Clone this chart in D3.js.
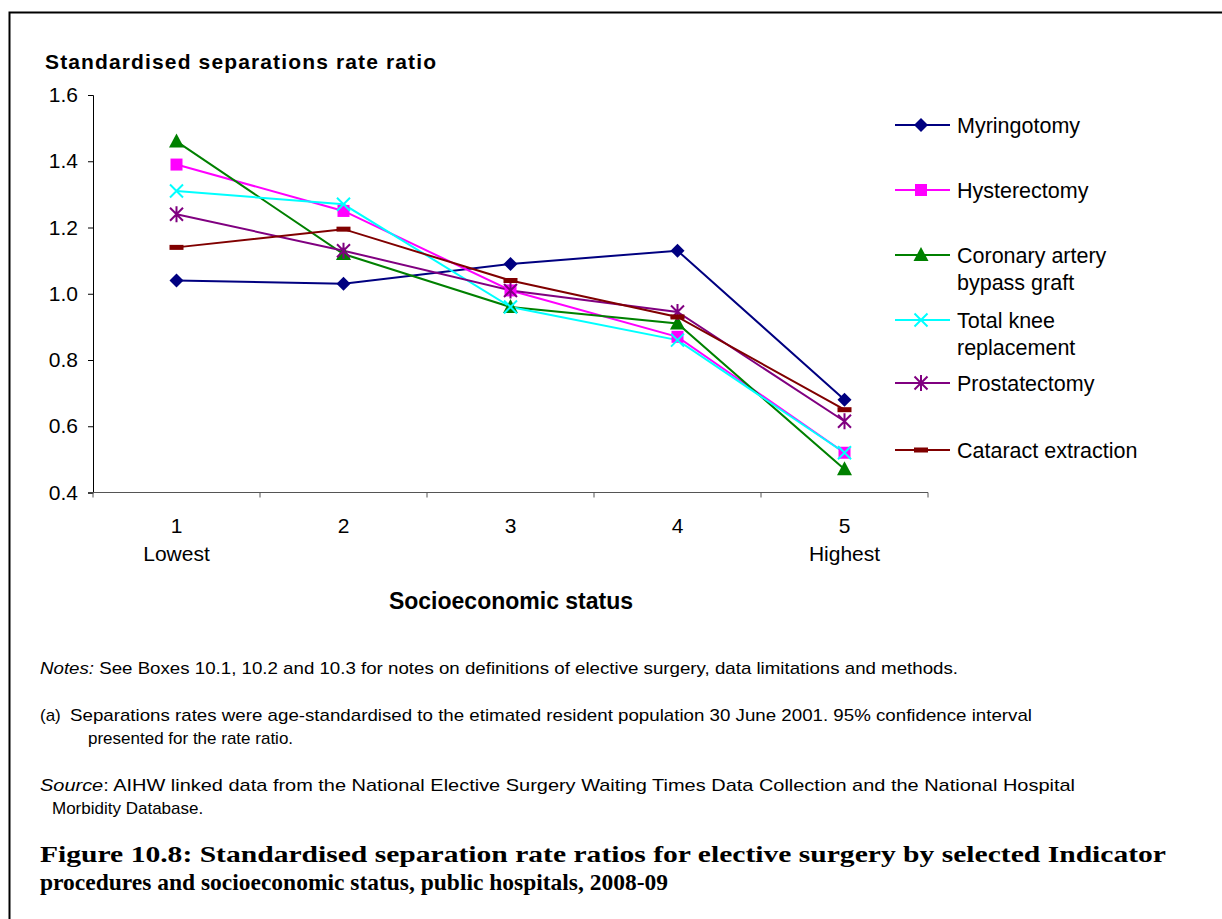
<!DOCTYPE html>
<html>
<head>
<meta charset="utf-8">
<script src="https://cdn.jsdelivr.net/npm/d3@7"></script>
<style>
  html, body { margin: 0; padding: 0; background: #fff; }
  svg { display: block; }
</style>
</head>
<body>
<svg id="chart" width="1222" height="919"></svg>
<script>
// Socioeconomic status quintiles
const categories = ["1", "2", "3", "4", "5"];
const categorySubLabels = ["Lowest", "", "", "", "Highest"];

// Standardised separations rate ratio by procedure
const myringotomy   = [1.04, 1.03, 1.09, 1.13, 0.68];
const hysterectomy  = [1.39, 1.25, 1.01, 0.87, 0.52];
const coronary      = [1.46, 1.12, 0.96, 0.91, 0.47];
const totalKnee     = [1.31, 1.27, 0.96, 0.86, 0.52];
const prostatectomy = [1.24, 1.13, 1.01, 0.945, 0.615];
const cataract      = [1.14, 1.195, 1.04, 0.93, 0.65];

const seriesNames = ["Myringotomy", "Hysterectomy", "Coronary artery bypass graft",
                     "Total knee replacement", "Prostatectomy", "Cataract extraction"];
const yTicks = [0.4, 0.6, 0.8, 1.0, 1.2, 1.4, 1.6];

const series = [
  { name: seriesNames[0], lines: ["Myringotomy"], values: myringotomy, color: "#000080", marker: "diamond" },
  { name: seriesNames[1], lines: ["Hysterectomy"], values: hysterectomy, color: "#FF00FF", marker: "square" },
  { name: seriesNames[2], lines: ["Coronary artery", "bypass graft"], values: coronary, color: "#008000", marker: "triangle" },
  { name: seriesNames[3], lines: ["Total knee", "replacement"], values: totalKnee, color: "#00FFFF", marker: "x" },
  { name: seriesNames[4], lines: ["Prostatectomy"], values: prostatectomy, color: "#800080", marker: "star" },
  { name: seriesNames[5], lines: ["Cataract extraction"], values: cataract, color: "#800000", marker: "dash" }
];

const svg = d3.select("#chart");
const sans = "'Liberation Sans', Arial, sans-serif";
const serif = "'Liberation Serif', 'DejaVu Serif', serif";

// Outer frame
svg.append("rect")
  .attr("x", 9.5).attr("y", 12.5)
  .attr("width", 1230).attr("height", 930)
  .attr("fill", "none").attr("stroke", "#000").attr("stroke-width", 2);

const plot = { left: 93, right: 928, top: 95, bottom: 492.5 };

const x = d3.scaleBand().domain(categories).range([plot.left, plot.right]);
const y = d3.scaleLinear().domain([0.4, 1.6]).range([plot.bottom, plot.top]);

// Y axis
const yAxis = svg.append("g")
  .attr("transform", `translate(${plot.left},0)`)
  .call(d3.axisLeft(y).tickValues(yTicks).tickFormat(d3.format(".1f")).tickSize(5).tickPadding(10));
yAxis.select(".domain").attr("stroke", "#000").attr("stroke-width", 1);
yAxis.selectAll(".tick line").attr("stroke", "#000");
yAxis.selectAll(".tick text")
  .attr("font-family", sans).attr("font-size", 21).attr("fill", "#000");

// X axis: ticks at band boundaries, labels at band centres
const xAxisG = svg.append("g").attr("transform", `translate(0,${plot.bottom})`);
xAxisG.append("line")
  .attr("x1", plot.left).attr("x2", plot.right)
  .attr("stroke", "#555").attr("stroke-width", 1.2);
const boundaries = categories.map(c => x(c)).concat([plot.right]);
xAxisG.selectAll("line.tk").data(boundaries).join("line")
  .attr("class", "tk")
  .attr("x1", d => d).attr("x2", d => d)
  .attr("y1", 0).attr("y2", 5)
  .attr("stroke", "#555");
xAxisG.selectAll("text.num").data(categories).join("text")
  .attr("class", "num")
  .attr("x", d => x(d) + x.bandwidth() / 2)
  .attr("y", 40)
  .attr("text-anchor", "middle")
  .attr("font-family", sans).attr("font-size", 21)
  .text(d => d);
xAxisG.selectAll("text.sub").data(categories).join("text")
  .attr("class", "sub")
  .attr("x", d => x(d) + x.bandwidth() / 2)
  .attr("y", 68)
  .attr("text-anchor", "middle")
  .attr("font-family", sans).attr("font-size", 21)
  .text((d, i) => categorySubLabels[i]);

// Axis titles
svg.append("text")
  .attr("x", 45).attr("y", 69)
  .attr("font-family", sans).attr("font-size", 21).attr("font-weight", "bold")
  .attr("textLength", 391).attr("lengthAdjust", "spacing")
  .text("Standardised separations rate ratio");
svg.append("text")
  .attr("x", 511).attr("y", 609)
  .attr("text-anchor", "middle")
  .attr("font-family", sans).attr("font-size", 23).attr("font-weight", "bold")
  .text("Socioeconomic status");

// Marker drawing
function drawMarker(g, type, color) {
  switch (type) {
    case "diamond":
      g.append("path").attr("d", "M0,-7L7,0L0,7L-7,0Z").attr("fill", color);
      break;
    case "square":
      g.append("rect").attr("x", -6).attr("y", -6).attr("width", 12).attr("height", 12).attr("fill", color);
      break;
    case "triangle":
      g.append("path").attr("d", "M0,-8L7.5,6L-7.5,6Z").attr("fill", color);
      break;
    case "x":
      g.append("path").attr("d", "M-6.5,-6.5L6.5,6.5M-6.5,6.5L6.5,-6.5")
        .attr("stroke", color).attr("stroke-width", 2).attr("fill", "none");
      break;
    case "star":
      g.append("path").attr("d", "M-6.5,-6.5L6.5,6.5M-6.5,6.5L6.5,-6.5M0,-8L0,8")
        .attr("stroke", color).attr("stroke-width", 2).attr("fill", "none");
      break;
    case "dash":
      g.append("rect").attr("x", -7).attr("y", -2.5).attr("width", 14).attr("height", 5).attr("fill", color);
      break;
  }
}

const line = d3.line()
  .x((d, i) => x(categories[i]) + x.bandwidth() / 2)
  .y(d => y(d));

// Series lines
series.forEach(s => {
  svg.append("path")
    .datum(s.values)
    .attr("d", line)
    .attr("fill", "none")
    .attr("stroke", s.color)
    .attr("stroke-width", 2);
});
// Series markers
series.forEach(s => {
  s.values.forEach((v, i) => {
    const g = svg.append("g")
      .attr("transform", `translate(${x(categories[i]) + x.bandwidth() / 2},${y(v)})`);
    drawMarker(g, s.marker, s.color);
  });
});

// Legend
const legendY = [125, 190, 255, 320, 383, 450];
series.forEach((s, i) => {
  const g = svg.append("g").attr("transform", `translate(895,${legendY[i]})`);
  g.append("line").attr("x1", 0).attr("x2", 55).attr("stroke", s.color).attr("stroke-width", 2);
  const m = g.append("g").attr("transform", "translate(26,0)");
  drawMarker(m, s.marker, s.color);
  s.lines.forEach((t, j) => {
    g.append("text")
      .attr("x", 62).attr("y", 7.5 + j * 27)
      .attr("font-family", sans).attr("font-size", 21.5)
      .text(t);
  });
});

// Notes
const notes = svg.append("g").attr("font-family", sans).attr("font-size", 17);
const n1 = notes.append("text").attr("x", 40).attr("y", 674)
  .attr("textLength", 918).attr("lengthAdjust", "spacingAndGlyphs");
n1.append("tspan").attr("font-style", "italic").text("Notes:");
n1.append("tspan").text(" See Boxes 10.1, 10.2 and 10.3 for notes on definitions of elective surgery, data limitations and methods.");
notes.append("text").attr("x", 40).attr("y", 721).text("(a)");
notes.append("text").attr("x", 70).attr("y", 721)
  .attr("textLength", 962).attr("lengthAdjust", "spacingAndGlyphs")
  .text("Separations rates were age-standardised to the etimated resident population 30 June 2001. 95% confidence interval");
notes.append("text").attr("x", 88).attr("y", 744)
  .text("presented for the rate ratio.");
const n3 = notes.append("text").attr("x", 40).attr("y", 791)
  .attr("textLength", 1035).attr("lengthAdjust", "spacingAndGlyphs");
n3.append("tspan").attr("font-style", "italic").text("Source");
n3.append("tspan").text(": AIHW linked data from the National Elective Surgery Waiting Times Data Collection and the National Hospital");
notes.append("text").attr("x", 52).attr("y", 814)
  .text("Morbidity Database.");

// Figure caption
const cap = svg.append("g").attr("font-family", serif).attr("font-size", 24).attr("font-weight", "bold");
cap.append("text").attr("x", 40).attr("y", 862)
  .attr("textLength", 1126).attr("lengthAdjust", "spacingAndGlyphs")
  .text("Figure 10.8: Standardised separation rate ratios for elective surgery by selected Indicator");
cap.append("text").attr("x", 40).attr("y", 890)
  .attr("textLength", 628).attr("lengthAdjust", "spacingAndGlyphs")
  .text("procedures and socioeconomic status, public hospitals, 2008-09");
</script>
</body>
</html>
